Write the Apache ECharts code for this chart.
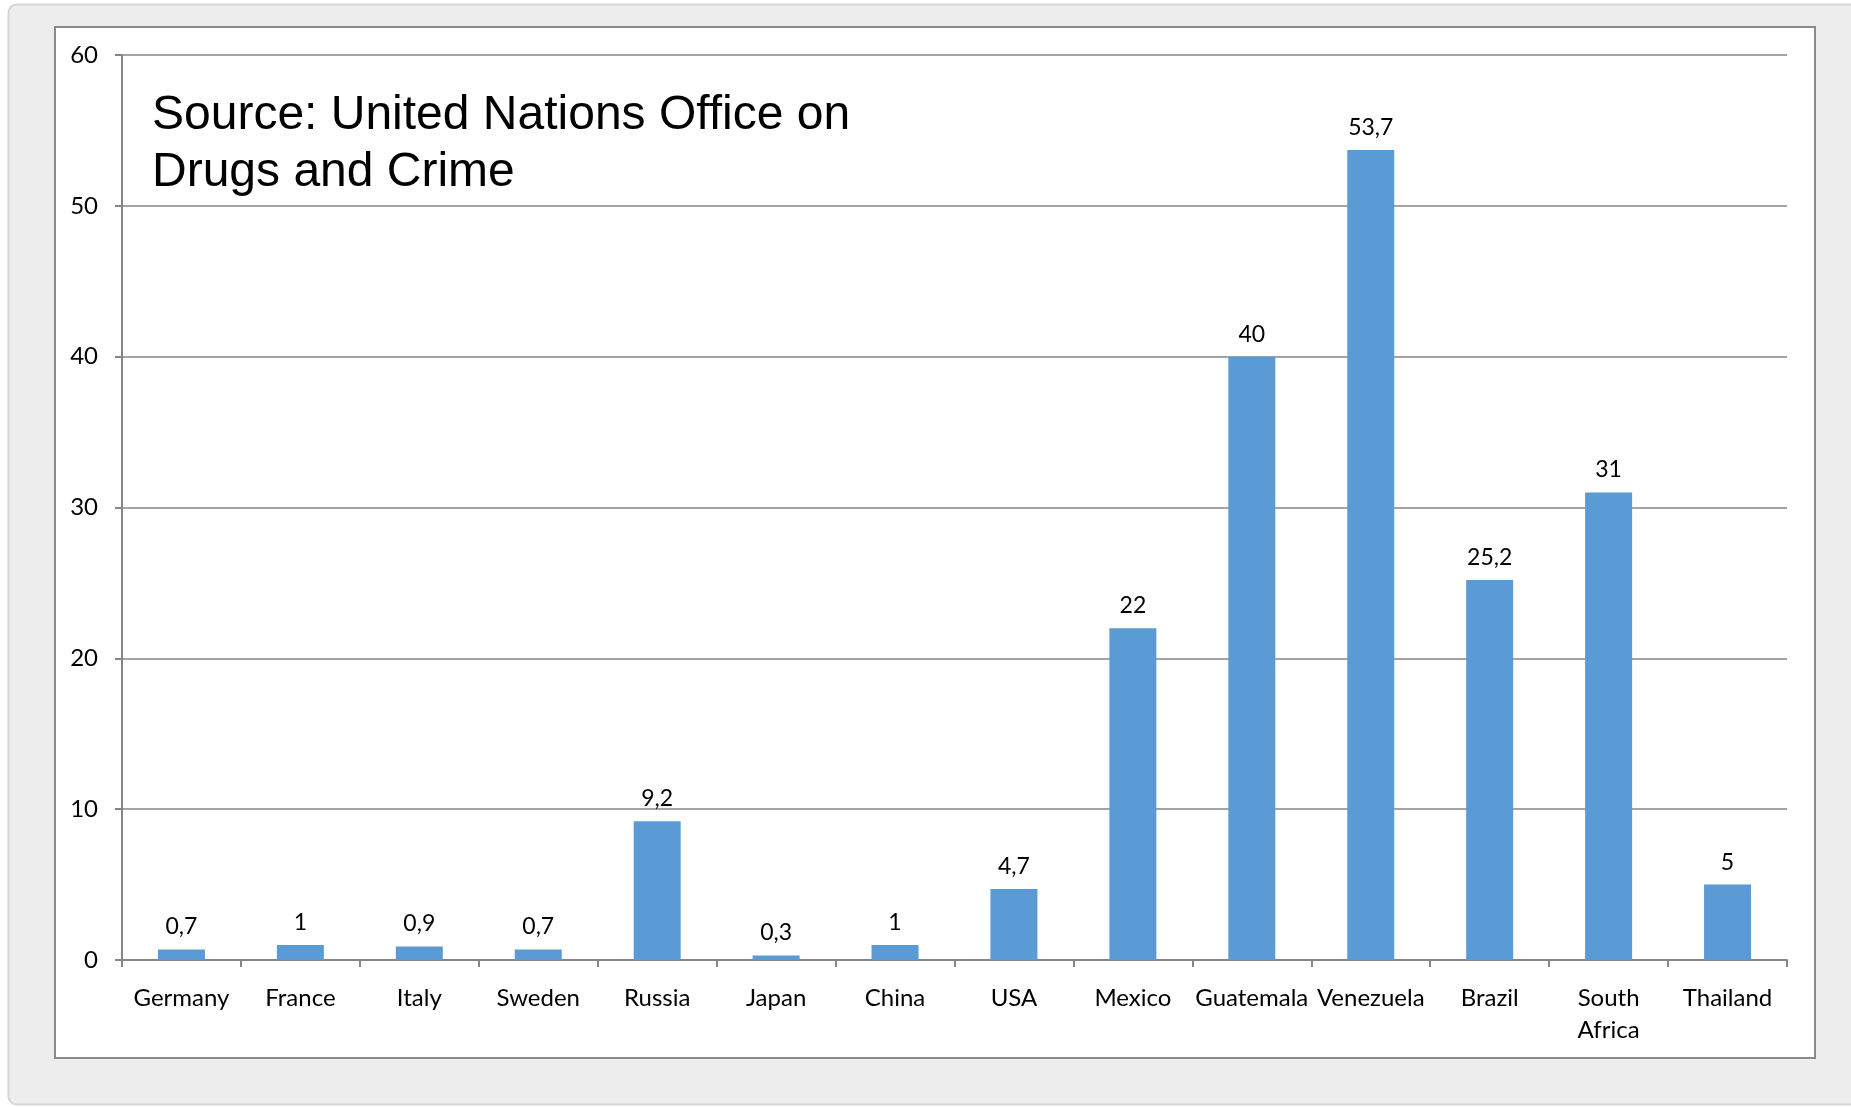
<!DOCTYPE html>
<html>
<head>
<meta charset="utf-8">
<style>
  html, body { margin: 0; padding: 0; background: #ffffff; }
  #chart { width: 1851px; height: 1107px; }
</style>
<script src="https://cdn.jsdelivr.net/npm/echarts@6/dist/echarts.min.js"></script>
</head>
<body>
<div id="chart"></div>
<script>
// Homicide rate per country
const categories = ['Germany', 'France', 'Italy', 'Sweden', 'Russia', 'Japan', 'China', 'USA',
  'Mexico', 'Guatemala', 'Venezuela', 'Brazil', 'South\nAfrica', 'Thailand'];
const values = [0.7, 1, 0.9, 0.7, 9.2, 0.3, 1, 4.7, 22, 40, 53.7, 25.2, 31, 5];
const yTicks = { min: 0, max: 60, interval: 10 };
const sourceNote = 'Source: United Nations Office on\nDrugs and Crime';

const labelFont = 'Lato, "Open Sans", sans-serif';
const axisGray = '#868686';

const chart = echarts.init(document.getElementById('chart'), null, { renderer: 'canvas' });

const fmt = v => String(v).replace('.', ',');

chart.setOption({
  backgroundColor: '#ffffff',
  animation: false,
  graphic: [
    {
      type: 'rect', z: -10, silent: true,
      shape: { x: 8.5, y: 4.5, width: 1900, height: 1100, r: 8 },
      style: { fill: '#ededed', stroke: '#d6d6d6', lineWidth: 2 }
    },
    {
      type: 'rect', z: -9, silent: true,
      shape: { x: 55, y: 27, width: 1760, height: 1031 },
      style: { fill: '#ffffff', stroke: '#8a8a8a', lineWidth: 2 }
    },
    {
      type: 'text', z: 10, silent: true,
      left: 152, top: 87,
      style: {
        text: sourceNote,
        font: '48px "Liberation Sans", Arial, sans-serif',
        fill: '#000000',
        lineHeight: 57
      }
    }
  ],
  grid: { left: 122, right: 64, top: 55, bottom: 147, containLabel: false },
  xAxis: {
    type: 'category',
    data: categories,
    axisLine: { show: true, lineStyle: { color: axisGray, width: 2 } },
    axisTick: { show: true, length: 7, alignWithLabel: false, lineStyle: { color: axisGray, width: 2 } },
    axisLabel: {
      interval: 0, margin: 22,
      fontFamily: labelFont, fontSize: 24, color: '#000000', lineHeight: 32
    },
    splitLine: { show: false }
  },
  yAxis: {
    type: 'value',
    min: yTicks.min, max: yTicks.max, interval: yTicks.interval,
    axisLine: { show: true, lineStyle: { color: axisGray, width: 2 } },
    axisTick: { show: true, length: 7, lineStyle: { color: axisGray, width: 2 } },
    axisLabel: { margin: 24, fontFamily: labelFont, fontSize: 24, color: '#000000' },
    splitLine: { show: true, lineStyle: { color: axisGray, width: 1.5 } }
  },
  series: [{
    type: 'bar',
    data: values,
    barWidth: 47,
    itemStyle: { color: '#5b9bd5' },
    label: {
      show: true, position: 'top', distance: 11,
      fontFamily: labelFont, fontSize: 23, color: '#000000',
      formatter: p => fmt(p.value)
    }
  }]
});
</script>
</body>
</html>
